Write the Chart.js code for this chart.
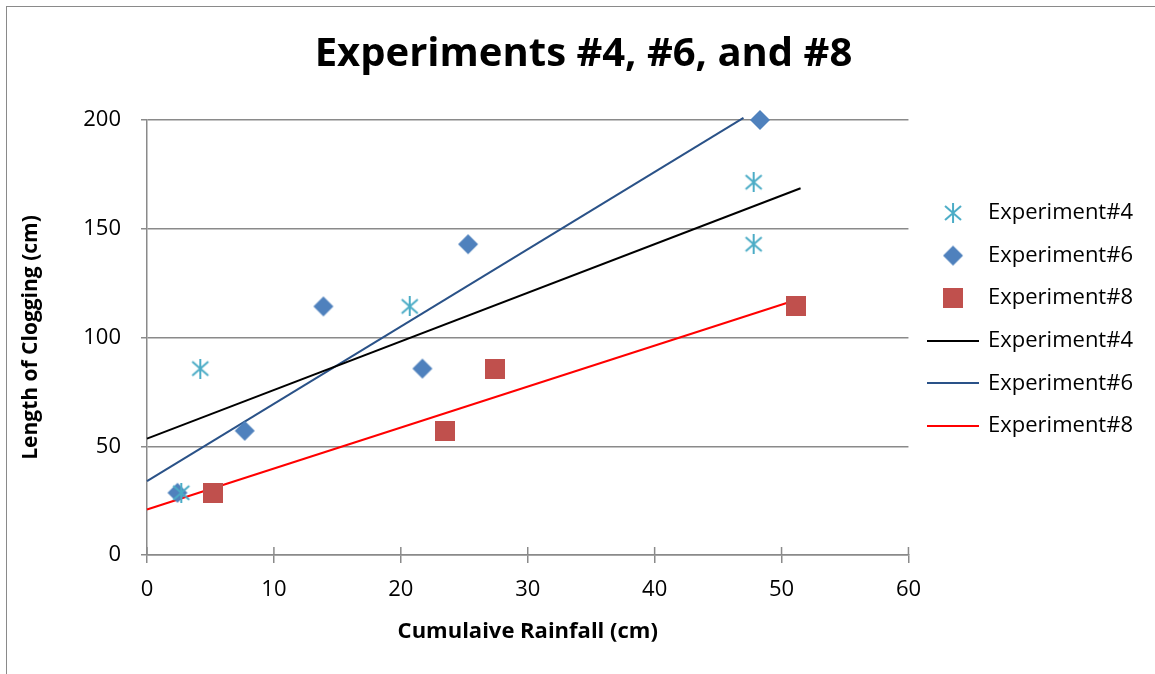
<!DOCTYPE html>
<html lang="en">
<head>
<meta charset="UTF-8">
<title>Experiments #4, #6, and #8</title>
<script src="https://cdn.jsdelivr.net/npm/chart.js@4.4.1/dist/chart.umd.min.js"></script>
<style>
    body { margin: 0; background: #fff; overflow: hidden; }
    .wrap { position: relative; width: 1155px; height: 674px; }
    .frame {
        position: absolute; left: 6px; top: 6px; width: 1300px; height: 800px;
        border-left: 1.5px solid #8a8a8a; border-top: 1.5px solid #8a8a8a;
    }
    canvas { position: relative; }
</style>
</head>
<body>
<div class="wrap">
    <div class="frame"></div>
    <canvas id="chart"></canvas>
</div>
<script>
    // measured points
    const exp4X = [2.7, 4.2, 20.7, 47.8, 47.8];
    const exp4Y = [28.6, 85.7, 114.3, 171.4, 142.9];
    const exp6X = [2.4, 7.7, 13.9, 21.7, 25.3, 48.3];
    const exp6Y = [28.6, 57.1, 114.3, 85.7, 142.9, 200];
    const exp8X = [5.2, 23.5, 27.4, 51.1];
    const exp8Y = [28.6, 57.1, 85.7, 114.3];

    // linear trendline end points
    const trend4X = [0, 51.5];
    const trend4Y = [53.5, 168.6];
    const trend6X = [0, 47.0];
    const trend6Y = [34.0, 201.0];
    const trend8X = [0, 51.5];
    const trend8Y = [20.9, 117.9];

    const xTicks = [0, 10, 20, 30, 40, 50, 60];
    const yTicks = [0, 50, 100, 150, 200];
    const seriesNames = ['Experiment#4', 'Experiment#6', 'Experiment#8'];

    const toPts = (xs, ys) => xs.map((x, i) => ({ x: x, y: ys[i] }));

    // marker images (Excel style)
    function makeCanvas(w, h, draw) {
        const c = document.createElement('canvas');
        c.width = w; c.height = h;
        draw(c.getContext('2d'));
        return c;
    }
    const starImg = makeCanvas(20, 20, ctx => {
        ctx.strokeStyle = '#4bacc6';
        ctx.lineWidth = 2;
        ctx.beginPath();
        ctx.moveTo(10, 0); ctx.lineTo(10, 20);
        ctx.moveTo(2, 3); ctx.lineTo(18, 17);
        ctx.moveTo(18, 3); ctx.lineTo(2, 17);
        ctx.stroke();
    });
    const diamondImg = makeCanvas(22, 22, ctx => {
        ctx.fillStyle = '#4f81bd';
        ctx.beginPath();
        ctx.moveTo(11, 1); ctx.lineTo(21, 11); ctx.lineTo(11, 21); ctx.lineTo(1, 11);
        ctx.closePath();
        ctx.fill();
    });
    const squareImg = makeCanvas(20, 20, ctx => {
        ctx.fillStyle = '#c0504d';
        ctx.fillRect(0, 0, 20, 20);
    });
    const lineImg = color => makeCanvas(52, 2, ctx => {
        ctx.fillStyle = color;
        ctx.fillRect(0, 0, 52, 2);
    });

    const trendColors = ['#000000', '#2a5288', '#ff0000'];
    const legendImgs = [starImg, diamondImg, squareImg,
        lineImg(trendColors[0]), lineImg(trendColors[1]), lineImg(trendColors[2])];

    // x ticks cross the axis in the reference: draw the inner half
    const crossTicks = {
        id: 'crossTicks',
        beforeDatasetsDraw(chart) {
            const xs = chart.scales.x, ctx = chart.ctx, b = chart.chartArea.bottom;
            ctx.save();
            ctx.strokeStyle = '#8a8a8a';
            ctx.lineWidth = 1.5;
            xs.ticks.forEach(t => {
                const px = xs.getPixelForValue(t.value);
                ctx.beginPath();
                ctx.moveTo(px, b - 8); ctx.lineTo(px, b);
                ctx.stroke();
            });
            ctx.restore();
        }
    };

    // title sits a little right of the canvas centre in the reference
    const titleShift = {
        id: 'titleShift',
        afterLayout(chart) {
            if (chart.titleBlock) chart.titleBlock.left += 24;
        }
    };

    const grey = '#8a8a8a';
    const trendDs = (xs, ys, i) => ({
        type: 'line',
        label: seriesNames[i],
        data: toPts(xs, ys),
        borderColor: trendColors[i],
        borderWidth: 2,
        pointRadius: 0,
        showLine: true,
        fill: false,
        clip: false
    });

    new Chart(document.getElementById('chart'), {
        type: 'scatter',
        data: {
            datasets: [
                { label: seriesNames[0], data: toPts(exp4X, exp4Y), pointStyle: starImg, clip: false },
                { label: seriesNames[1], data: toPts(exp6X, exp6Y), pointStyle: diamondImg, clip: false },
                { label: seriesNames[2], data: toPts(exp8X, exp8Y), pointStyle: squareImg, clip: false },
                trendDs(trend4X, trend4Y, 0),
                trendDs(trend6X, trend6Y, 1),
                trendDs(trend8X, trend8Y, 2)
            ]
        },
        options: {
            responsive: true,
            maintainAspectRatio: false,
            animation: false,
            layout: { padding: { left: 0, right: 12, top: 0, bottom: 0 } },
            plugins: {
                tooltip: { enabled: false },
                title: {
                    display: true,
                    text: 'Experiments #4, #6, and #8',
                    color: '#000',
                    font: { family: 'Open Sans', size: 40, weight: 'bold', lineHeight: 1.2 },
                    padding: { top: 31, bottom: 41 }
                },
                legend: {
                    position: 'right',
                    align: 'start',
                    fullSize: false,
                    title: { display: true, text: '', padding: 23.5, font: { size: 12 } },
                    labels: {
                        usePointStyle: true,
                        pointStyleWidth: 48,
                        padding: 20.6,
                        color: '#000',
                        font: { family: 'Open Sans', size: 22 },
                        generateLabels: chart => chart.data.datasets.map((ds, i) => ({
                            text: ds.label,
                            fontColor: '#000',
                            pointStyle: legendImgs[i],
                            fillStyle: 'transparent',
                            strokeStyle: 'transparent',
                            lineWidth: 0,
                            datasetIndex: i
                        }))
                    }
                }
            },
            scales: {
                x: {
                    type: 'linear',
                    min: 0, max: 60,
                    afterBuildTicks: s => { s.ticks = xTicks.map(v => ({ value: v })); },
                    afterFit: s => { s.height = 119; },
                    border: { color: grey, width: 1.5 },
                    grid: { drawOnChartArea: false, drawTicks: true, tickLength: 8, color: grey, lineWidth: 1.5 },
                    ticks: { color: '#000', padding: 14, font: { family: 'Open Sans', size: 22 } },
                    title: {
                        display: true,
                        text: 'Cumulaive Rainfall (cm)',
                        color: '#000',
                        font: { family: 'Open Sans', size: 22, weight: 'bold' },
                        padding: { top: 0, bottom: 29 }
                    }
                },
                y: {
                    type: 'linear',
                    min: 0, max: 200,
                    afterBuildTicks: s => { s.ticks = yTicks.map(v => ({ value: v })); },
                    afterFit: s => { s.width = 147; },
                    border: { color: grey, width: 1.5 },
                    grid: { color: grey, lineWidth: 1.5, drawTicks: true, tickLength: 6, tickColor: grey },
                    ticks: { color: '#000', padding: 20, font: { family: 'Open Sans', size: 22 } },
                    title: {
                        display: true,
                        text: 'Length of Clogging (cm)',
                        color: '#000',
                        font: { family: 'Open Sans', size: 21, weight: 'bold' },
                        padding: { top: 18, bottom: 0 }
                    }
                }
            }
        },
        plugins: [crossTicks, titleShift]
    });
</script>
</body>
</html>
